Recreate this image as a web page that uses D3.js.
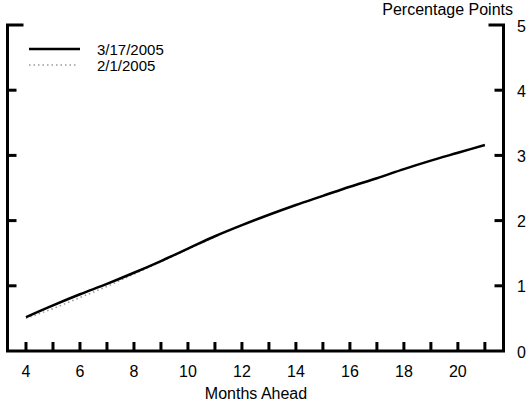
<!DOCTYPE html>
<html lang="en">
<head>
  <meta charset="UTF-8">
  <title>Months Ahead</title>
  <style>
    body { margin: 0; background: #fff; }
    text { font-family: "Liberation Sans", Arial, sans-serif; fill: #000; }
  </style>
</head>
<body>
<div id="chart"></div>
<script src="https://d3js.org/d3.v7.min.js"></script>
<script>
  const months = [4, 5, 6, 7, 8, 9, 10, 11, 12, 13, 14, 15, 16, 17, 18, 19, 20, 21];
  const mar17 = [0.52, 0.70, 0.87, 1.03, 1.20, 1.38, 1.57, 1.76, 1.93, 2.09, 2.24, 2.38, 2.52, 2.65, 2.79, 2.92, 3.04, 3.16];
  const feb1 = [0.50, 0.65, 0.82, 0.99, 1.18, 1.37, 1.56, 1.75, 1.93, 2.09, 2.24, 2.38, 2.52, 2.65, 2.79, 2.92, 3.04, 3.16];
  const xTickLabels = [4, 6, 8, 10, 12, 14, 16, 18, 20];
  const yTicks = [0, 1, 2, 3, 4, 5];

  const W = 531, H = 404;
  const plot = {left: 7.5, right: 503.5, top: 25, bottom: 351};

  const svg = d3.select("#chart").append("svg")
    .attr("width", W)
    .attr("height", H);

  const x = d3.scaleLinear().domain([3.315, 21.69]).range([plot.left, plot.right]);
  const y = d3.scaleLinear().domain([0, 5]).range([plot.bottom, plot.top]);

  const frame = svg.append("g")
    .attr("stroke", "#000")
    .attr("stroke-width", 3)
    .attr("fill", "none");

  // left and right axes with short caps at the top, plus the bottom axis
  frame.append("path")
    .attr("d", `M${plot.left + 16},${plot.top} H${plot.left} V${plot.bottom} H${plot.right} V${plot.top} H${plot.right - 15}`)
    .attr("stroke-linejoin", "miter");

  // y ticks on both sides
  yTicks.slice(1, 5).forEach(v => {
    frame.append("line").attr("x1", plot.left).attr("x2", plot.left + 9).attr("y1", y(v)).attr("y2", y(v));
    frame.append("line").attr("x1", plot.right).attr("x2", plot.right - 9).attr("y1", y(v)).attr("y2", y(v));
  });

  // x ticks, every month
  months.forEach(m => {
    frame.append("line").attr("x1", x(m)).attr("x2", x(m)).attr("y1", plot.bottom).attr("y2", plot.bottom - 9);
  });

  svg.append("g").selectAll("text")
    .data(xTickLabels)
    .enter().append("text")
    .attr("x", d => x(d))
    .attr("y", 377)
    .attr("text-anchor", "middle")
    .style("font-size", "16px")
    .text(d => d);

  svg.append("g").selectAll("text")
    .data(yTicks)
    .enter().append("text")
    .attr("x", 517)
    .attr("y", d => y(d) + 6.5)
    .style("font-size", "16px")
    .text(d => d);

  svg.append("text")
    .attr("x", 256)
    .attr("y", 399)
    .attr("text-anchor", "middle")
    .style("font-size", "16px")
    .text("Months Ahead");

  svg.append("text")
    .attr("x", 513)
    .attr("y", 15)
    .attr("text-anchor", "end")
    .style("font-size", "16px")
    .text("Percentage Points");

  const line = d3.line()
    .x((d, i) => x(months[i]))
    .y(d => y(d))
    .curve(d3.curveMonotoneX);

  svg.append("path")
    .datum(feb1)
    .attr("d", line)
    .attr("fill", "none")
    .attr("stroke", "#999")
    .attr("stroke-width", 1.5)
    .attr("stroke-dasharray", "1.5,3");

  svg.append("path")
    .datum(mar17)
    .attr("d", line)
    .attr("fill", "none")
    .attr("stroke", "#000")
    .attr("stroke-width", 2.5);

  // legend
  const legend = svg.append("g");
  legend.append("line").attr("x1", 29).attr("x2", 80).attr("y1", 49).attr("y2", 49)
    .attr("stroke", "#000").attr("stroke-width", 2.5);
  legend.append("line").attr("x1", 29).attr("x2", 78).attr("y1", 65).attr("y2", 65)
    .attr("stroke", "#999").attr("stroke-width", 1.5).attr("stroke-dasharray", "1.5,3");
  legend.append("text").attr("x", 97).attr("y", 55).style("font-size", "15px").text("3/17/2005");
  legend.append("text").attr("x", 97).attr("y", 71).style("font-size", "15px").text("2/1/2005");
</script>
</body>
</html>
